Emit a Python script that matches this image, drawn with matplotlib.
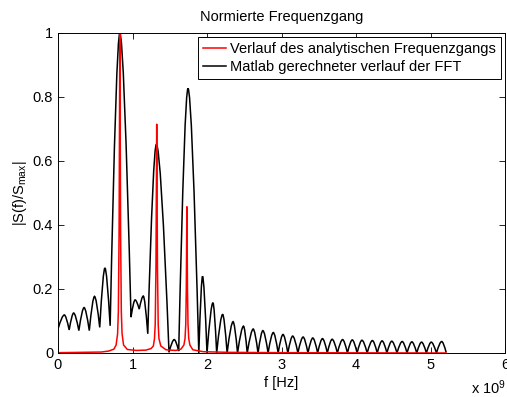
import matplotlib
matplotlib.use("Agg")
import matplotlib.pyplot as plt
from matplotlib.path import Path
from matplotlib.patches import PathPatch
from matplotlib.lines import Line2D

plt.rcParams['font.family'] = ['Liberation Sans', 'DejaVu Sans']
plt.rcParams['mathtext.fontset'] = 'custom'
plt.rcParams['mathtext.rm'] = 'Liberation Sans'
plt.rcParams['mathtext.it'] = 'Liberation Sans'
plt.rcParams['mathtext.default'] = 'regular'

# FFT curve (x 10^9 Hz): alternating troughs / lobe tops
fft_f = [0.00, 0.085, 0.15, 0.21, 0.28, 0.35, 0.42, 0.49, 0.56, 0.63, 0.70,
         0.83, 0.98, 1.035, 1.09, 1.145, 1.205, 1.32, 1.49, 1.56, 1.62,
         1.745, 1.89, 1.94, 2.00, 2.08, 2.13, 2.21, 2.27, 2.35, 2.41, 2.49,
         2.54, 2.62, 2.685, 2.75, 2.82, 2.89, 2.955, 3.02, 3.085, 3.15, 3.22,
         3.29, 3.355, 3.42, 3.485, 3.55, 3.615, 3.68, 3.75, 3.82, 3.885, 3.95,
         4.015, 4.08, 4.15, 4.22, 4.285, 4.35, 4.415, 4.48, 4.55, 4.62, 4.685,
         4.75, 4.815, 4.88, 4.945, 5.01, 5.08, 5.15, 5.21]
fft_s = [0.075, 0.119, 0.072, 0.125, 0.070, 0.142, 0.070, 0.177, 0.080, 0.266, 0.085,
         1.000, 0.112, 0.166, 0.137, 0.178, 0.060, 0.652, 0.002, 0.042, 0.006,
         0.827, 0.0, 0.240, 0.0, 0.157, 0.0, 0.121, 0.0, 0.098, 0.0, 0.084,
         0.0, 0.075, 0.0, 0.070, 0.0, 0.064, 0.0, 0.058, 0.0, 0.053, 0.0,
         0.050, 0.0, 0.047, 0.0, 0.045, 0.0, 0.043, 0.0, 0.042, 0.0, 0.041,
         0.0, 0.040, 0.0, 0.039, 0.0, 0.038, 0.0, 0.037, 0.0, 0.036, 0.0,
         0.035, 0.0, 0.034, 0.0, 0.034, 0.0, 0.036, 0.002]

# analytic response (x 10^9 Hz)
ana_f = [0.00, 0.30, 0.58, 0.68, 0.75, 0.78, 0.80, 0.81, 0.82, 0.83, 0.84, 0.85,
         0.86, 0.88, 0.93, 1.05, 1.18, 1.25, 1.28, 1.295, 1.305, 1.315, 1.325,
         1.335, 1.345, 1.355, 1.38, 1.45, 1.58, 1.65, 1.69, 1.705, 1.715, 1.722,
         1.73, 1.738, 1.745, 1.755, 1.77, 1.81, 1.95, 2.30, 3.00, 5.21]
ana_s = [0.001, 0.002, 0.003, 0.006, 0.012, 0.025, 0.06, 0.13, 0.38, 1.0, 0.38, 0.13,
         0.06, 0.025, 0.011, 0.008, 0.009, 0.014, 0.022, 0.045, 0.09, 0.27, 0.715,
         0.27, 0.09, 0.045, 0.022, 0.010, 0.008, 0.012, 0.025, 0.045, 0.09, 0.20,
         0.457, 0.20, 0.09, 0.045, 0.025, 0.010, 0.004, 0.002, 0.001, 0.0]

xticks = [0, 1, 2, 3, 4, 5, 6]
yticks = [0, 0.2, 0.4, 0.6, 0.8, 1]
ytick_labels = ['0', '0.2', '0.4', '0.6', '0.8', '1']

fs = 10.5
fig = plt.figure(figsize=(5.07, 3.97), dpi=100)
ax = fig.add_axes([58/507, 44/397, 447/507, 320/397])

# rounded lobes: quadratic segments trough -> top -> trough
verts = [(fft_f[0], fft_s[0])]
codes = [Path.MOVETO]
for i in range(1, len(fft_f) - 1, 2):
    x0, y0 = fft_f[i-1], fft_s[i-1]
    xp, yp = fft_f[i], fft_s[i]
    x1, y1 = fft_f[i+1], fft_s[i+1]
    verts += [(x0 + 0.64*(xp - x0), yp), (xp, yp),
              (xp + 0.36*(x1 - xp), yp), (x1, y1)]
    codes += [Path.CURVE3] * 4
ax.add_patch(PathPatch(Path(verts, codes), fill=False, edgecolor='black', lw=1.1))

ax.plot(ana_f, ana_s, color='red', lw=1.1)

ax.set_xlim(0, 6)
ax.set_ylim(0, 1)
ax.set_xticks(xticks)
ax.set_yticks(yticks)
ax.set_yticklabels(ytick_labels)
ax.tick_params(direction='in', top=True, right=True, length=4, width=0.6,
               labelsize=fs, pad=3.5)
for sp in ax.spines.values():
    sp.set_linewidth(0.7)

ax.set_title('Normierte Frequenzgang', fontsize=fs, pad=9)
ax.set_xlabel('f [Hz]', fontsize=fs, labelpad=3)
ax.set_ylabel('|S(f)/S$_{max}$|', fontsize=fs, labelpad=3)
ax.text(1.003, -0.128, 'x 10$^{9}$', transform=ax.transAxes, ha='right',
        va='baseline', fontsize=fs)

handles = [Line2D([], [], color='red', lw=1.1), Line2D([], [], color='black', lw=1.1)]
leg = ax.legend(handles, ['Verlauf des analytischen Frequenzgangs',
                          'Matlab gerechneter verlauf der FFT'],
                loc='upper right', fontsize=fs, fancybox=False, framealpha=1,
                edgecolor='black', borderaxespad=0.3, borderpad=0.3,
                handlelength=1.6, handletextpad=0.3, labelspacing=0.3)
leg.get_frame().set_linewidth(0.7)

fig.savefig('out.png', dpi=100)
